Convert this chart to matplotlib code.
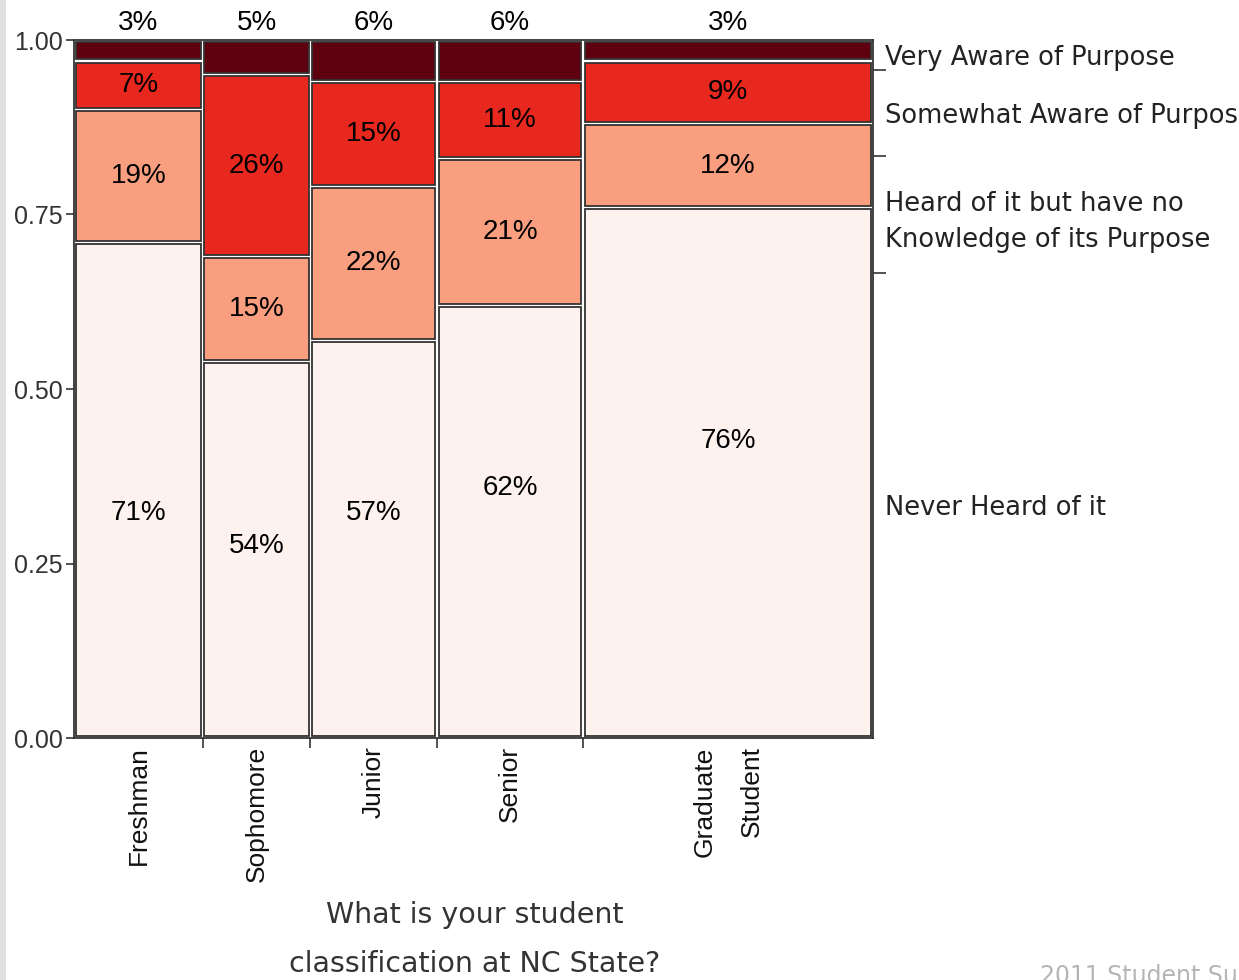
import numpy as np
import matplotlib
matplotlib.use("Agg")
from matplotlib import pyplot as plt
from matplotlib.patches import Rectangle

# student classification (columns) and their relative sizes
classes = ["Freshman", "Sophomore", "Junior", "Senior", "Graduate\nStudent"]
class_share = [127, 106, 125, 144, 286]

# awareness levels, bottom to top
levels = ["Never Heard of it",
          "Heard of it but have no\nKnowledge of its Purpose",
          "Somewhat Aware of Purpose",
          "Very Aware of Purpose"]
never = [71, 54, 57, 62, 76]
heard = [19, 15, 22, 21, 12]
somewhat = [7, 26, 15, 11, 9]
very = [3, 5, 6, 6, 3]

colors = ["#fdf2ee", "#f99f80", "#e8281f", "#5e0010"]
# hand placed height of the "never heard" labels
never_label_y = [0.322, 0.275, 0.322, 0.358, 0.425]

sans = ["Liberation Sans", "DejaVu Sans"]

fig = plt.figure(figsize=(12.39, 9.80), dpi=100)
fig.patch.set_facecolor("white")
fig.patches.append(Rectangle((0, 0), 6 / 1239, 1, transform=fig.transFigure,
                             facecolor="#dfe1e3", edgecolor="none"))
ax = fig.add_axes([74 / 1239, 1 - 738 / 980, 799 / 1239, 698 / 980])

widths = np.array(class_share, dtype=float) / sum(class_share)
lefts = np.concatenate([[0], np.cumsum(widths)[:-1]])
data = np.array([never, heard, somewhat, very], dtype=float) / 100.0

gx, gy = 0.004, 0.0045
for j in range(len(classes)):
    bottom = 0.0
    for i in range(len(levels)):
        h = data[i, j]
        ax.bar(lefts[j] + gx / 2, h - gy, width=widths[j] - gx, bottom=bottom + gy / 2,
               align="edge", color=colors[i], edgecolor="#333333", linewidth=1.3)
        pct = "{:d}%".format(int(round(h * 100)))
        cx = lefts[j] + widths[j] / 2
        if i == 0:
            ax.text(cx, never_label_y[j], pct, ha="center", va="center",
                    fontsize=20, family=sans, color="black")
        elif i == 3:
            ax.text(cx, 1.006, pct, ha="center", va="bottom", fontsize=20,
                    family=sans, color="black", clip_on=False)
        else:
            ax.text(cx, bottom + h / 2, pct, ha="center", va="center",
                    fontsize=20, family=sans, color="black")
        bottom += h

ax.set_xlim(0, 1)
ax.set_ylim(0, 1)
for s in ax.spines.values():
    s.set_color("#333333")
    s.set_linewidth(1.3)

ax.set_yticks([0, 0.25, 0.5, 0.75, 1.0])
ax.set_yticklabels(["0.00", "0.25", "0.50", "0.75", "1.00"])
ax.tick_params(axis="y", length=6, width=1.2, color="#333333", pad=2,
               labelsize=18, labelcolor="#333333")
for t in ax.get_yticklabels():
    t.set_family(sans)

# x axis: labels at column centers, ticks at column boundaries
ax.set_xticks(lefts + widths / 2)
ax.set_xticklabels(classes, rotation=90, va="top", ha="center",
                   multialignment="right", linespacing=2.2)
ax.tick_params(axis="x", which="major", length=0, pad=6, labelsize=19,
               labelcolor="#111111")
for t in ax.get_xticklabels():
    t.set_family(sans)
ax.set_xticks(np.cumsum(widths)[:-1], minor=True)
ax.tick_params(axis="x", which="minor", length=7, width=1.2, color="#333333")

# right side: overall proportions of each level
overall = data @ widths
bounds = np.cumsum(overall)
centers = bounds - overall / 2
ax2 = ax.twinx()
ax2.set_ylim(0, 1)
ax2.set_yticks(centers)
ax2.set_yticklabels(levels, linespacing=1.5)
ax2.tick_params(axis="y", which="major", length=0, pad=9, labelsize=18.5,
                labelcolor="#222222")
ax2.set_yticks(bounds[:-1], minor=True)
ax2.tick_params(axis="y", which="minor", length=9, width=1.2, color="#333333")
for s in ax2.spines.values():
    s.set_visible(False)

fig.text(475 / 1239, 1 - 901 / 980, "What is your student\nclassification at NC State?",
         ha="center", va="top", fontsize=20.5, color="#333333", linespacing=1.95)
fig.text(1040 / 1239, 1 - 964 / 980, "2011 Student Survey", ha="left", va="top",
         fontsize=17, color="#b5b5b5")

fig.savefig("out.png", dpi=100)
